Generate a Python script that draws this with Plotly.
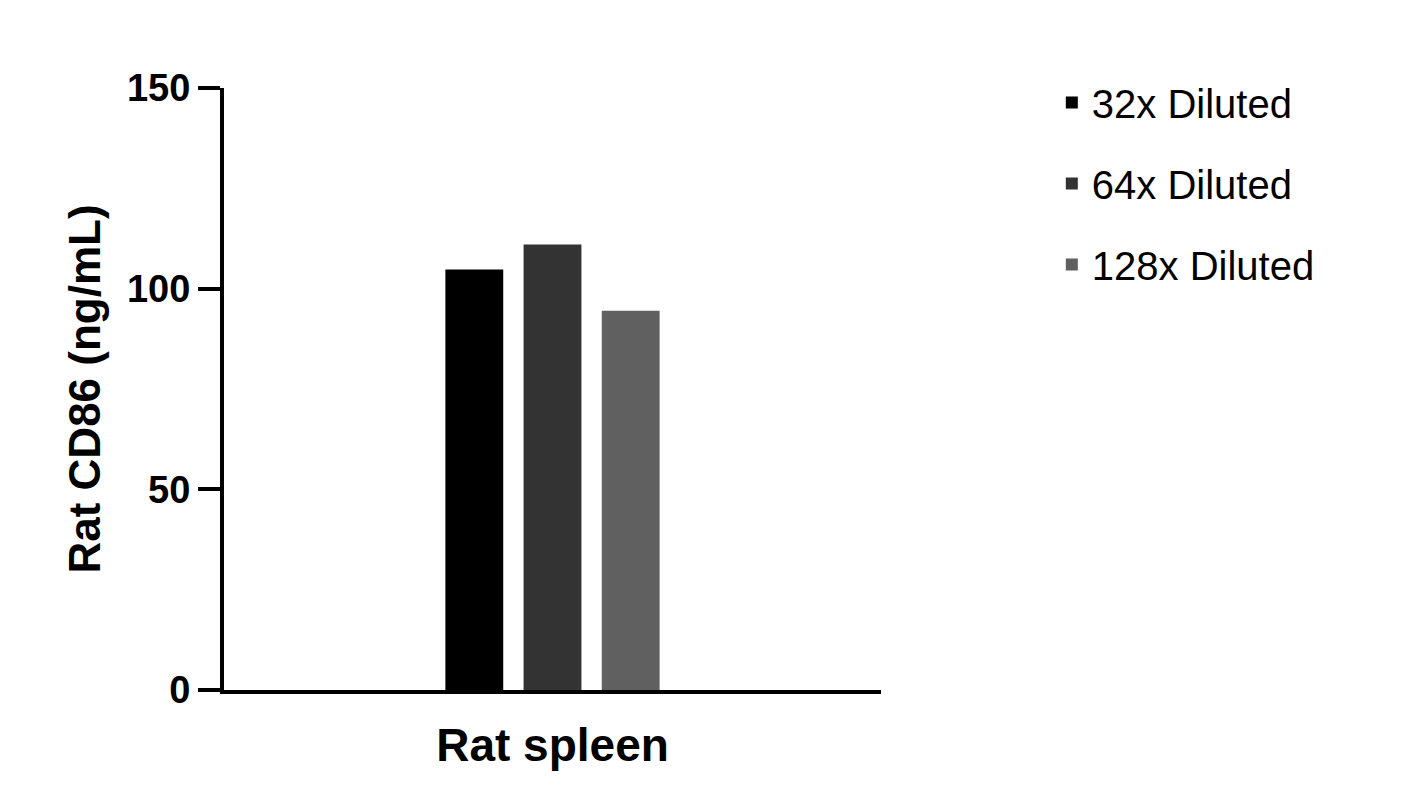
import plotly.graph_objects as go

categories = ["Rat spleen"]
series_names = ["32x Diluted", "64x Diluted", "128x Diluted"]
series_values = [[104.8], [111.0], [94.5]]
colors = ["#000000", "#333333", "#606060"]

fig = go.Figure()
for n, v, c in zip(series_names, series_values, colors):
    fig.add_trace(go.Bar(x=categories, y=v, name=n, legendgroup=n,
                         marker=dict(color=c, line=dict(width=0))))

fig.update_layout(
    width=1419, height=804, plot_bgcolor="white", paper_bgcolor="white",
    margin=dict(l=216, r=546, t=80, b=122),
    barmode="group", bargap=0.643, bargroupgap=0.26,
    font=dict(family="Liberation Sans, Arial", color="black"),
    legend=dict(x=1.26, y=1.03, yanchor="top", xanchor="left",
                font=dict(size=40), itemsizing="constant", tracegroupgap=26),
    showlegend=True,
)
fig.update_xaxes(showline=True, linewidth=4, linecolor="black", ticks="",
                 tickfont=dict(size=46, weight="bold"), ticklabelstandoff=12)
fig.update_yaxes(range=[0, 150], tickvals=[0, 50, 100, 150], showline=True, linewidth=4,
                 linecolor="black", ticks="outside", ticklen=22, tickwidth=4, tickcolor="black",
                 showgrid=False, zeroline=False,
                 tickfont=dict(size=38, weight="bold"),
                 title=dict(text="Rat CD86 (ng/mL)", font=dict(size=44, weight="bold"), standoff=14))
fig.write_html("out.html")
